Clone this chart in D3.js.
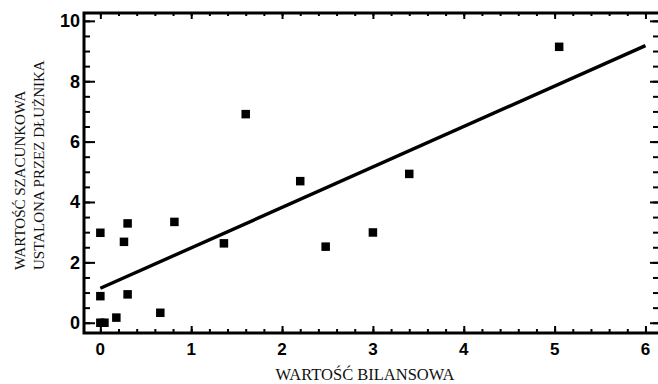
<!DOCTYPE html>
<html>
<head>
<meta charset="utf-8">
<script src="https://cdn.jsdelivr.net/npm/d3@7"></script>
<style>
  body { margin: 0; background: #fff; }
  svg { display: block; }
  .tick-label { font-family: 'Liberation Sans', Arial, sans-serif; font-weight: bold; }
  .axis-title { font-family: 'Liberation Serif', 'Times New Roman', serif; font-size: 15px; fill: #111; }
</style>
</head>
<body>
<svg id="chart" width="658" height="384"></svg>
<script>
// points (bilansowa -> szacunkowa)
var bilansowa   = [0.00, 0.30, 0.26, 0.815, 1.36, 2.48, 0.00, 0.30, 0.66, 0.176, 0.00, 0.045, 1.60, 2.20, 5.05, 3.40, 3.00];
var szacunkowa  = [2.98, 3.29, 2.68, 3.34, 2.63, 2.52, 0.88, 0.94, 0.33, 0.17, 0.00, 0.00, 6.91, 4.69, 9.14, 4.93, 2.99];

// fitted line
var fitX = [0, 6];
var fitY = [1.14, 9.18];

var xTicks = [0, 1, 2, 3, 4, 5, 6];
var yTicks = [0, 2, 4, 6, 8, 10];

var xTitle = "WARTOŚĆ BILANSOWA";
var yTitle = ["WARTOŚĆ SZACUNKOWA", "USTALONA PRZEZ DŁUŻNIKA"];

var svg = d3.select("#chart");
var plotL = 84, plotR = 660, plotT = 13, plotB = 333;

var x = d3.scaleLinear().domain([-0.18, 6.16]).range([plotL, plotR]);
var y = d3.scaleLinear().domain([-0.34, 10.26]).range([plotB, plotT]);

var minorX = d3.range(0, 30.5, 1).map(function(d) { return d / 5; });
var minorY = d3.range(0, 20.5, 1).map(function(d) { return d / 2; });

function axisLine(g) {
  g.select(".domain").remove();
  g.selectAll("line").attr("stroke", "#000").attr("stroke-width", 2);
}

// bottom axis (ticks inward)
svg.append("g").attr("transform", "translate(0," + plotB + ")")
  .call(d3.axisTop(x).tickValues(minorX).tickSize(4).tickFormat(""))
  .call(axisLine);
svg.append("g").attr("transform", "translate(0," + plotB + ")")
  .call(d3.axisTop(x).tickValues(xTicks).tickSize(7).tickFormat(""))
  .call(axisLine);
// top axis
svg.append("g").attr("transform", "translate(0," + plotT + ")")
  .call(d3.axisBottom(x).tickValues(minorX).tickSize(3).tickFormat(""))
  .call(axisLine);
svg.append("g").attr("transform", "translate(0," + plotT + ")")
  .call(d3.axisBottom(x).tickValues(xTicks).tickSize(6).tickFormat(""))
  .call(axisLine);
// left axis
svg.append("g").attr("transform", "translate(" + plotL + ",0)")
  .call(d3.axisRight(y).tickValues(minorY).tickSize(6).tickFormat(""))
  .call(axisLine);
svg.append("g").attr("transform", "translate(" + plotL + ",0)")
  .call(d3.axisRight(y).tickValues(yTicks).tickSize(11).tickFormat(""))
  .call(axisLine);
// right axis
svg.append("g").attr("transform", "translate(" + plotR + ",0)")
  .call(d3.axisLeft(y).tickValues(minorY).tickSize(7).tickFormat(""))
  .call(axisLine);
svg.append("g").attr("transform", "translate(" + plotR + ",0)")
  .call(d3.axisLeft(y).tickValues(yTicks).tickSize(10).tickFormat(""))
  .call(axisLine);

// frame
svg.append("path")
  .attr("d", "M" + plotL + "," + plotT + "H" + plotR + "V" + plotB + "H" + plotL + "Z")
  .attr("fill", "none")
  .attr("stroke", "#000")
  .attr("stroke-width", 3);

// tick labels
svg.append("g").selectAll("text")
  .data(xTicks)
  .enter().append("text")
    .attr("class", "tick-label")
    .attr("x", function(d) { return x(d); })
    .attr("y", 355)
    .attr("text-anchor", "middle")
    .attr("font-size", 17)
    .text(function(d) { return d; });

svg.append("g").selectAll("text")
  .data(yTicks)
  .enter().append("text")
    .attr("class", "tick-label")
    .attr("x", 80)
    .attr("y", function(d) { return y(d); })
    .attr("dy", "0.36em")
    .attr("text-anchor", "end")
    .attr("font-size", 18)
    .text(function(d) { return d; });

// fitted line
var line = d3.line()
  .x(function(d) { return x(d[0]); })
  .y(function(d) { return y(d[1]); });
svg.append("path")
  .datum(d3.zip(fitX, fitY))
  .attr("d", line)
  .attr("fill", "none")
  .attr("stroke", "#000")
  .attr("stroke-width", 3.4);

// points
var sz = 8.5;
svg.append("g").selectAll("rect")
  .data(d3.zip(bilansowa, szacunkowa))
  .enter().append("rect")
    .attr("x", function(d) { return x(d[0]) - sz / 2; })
    .attr("y", function(d) { return y(d[1]) - sz / 2; })
    .attr("width", sz)
    .attr("height", sz)
    .attr("fill", "#000");

// axis titles
svg.append("text")
  .attr("class", "axis-title")
  .attr("x", 365)
  .attr("y", 380)
  .attr("text-anchor", "middle")
  .style("font-size", "16.5px")
  .text(xTitle);

svg.append("g").selectAll("text")
  .data(yTitle)
  .enter().append("text")
    .attr("class", "axis-title")
    .attr("transform", function(d, i) { return "translate(" + (25 + i * 19) + ",270) rotate(-90)"; })
    .attr("text-anchor", "start")
    .text(function(d) { return d; });
</script>
</body>
</html>
